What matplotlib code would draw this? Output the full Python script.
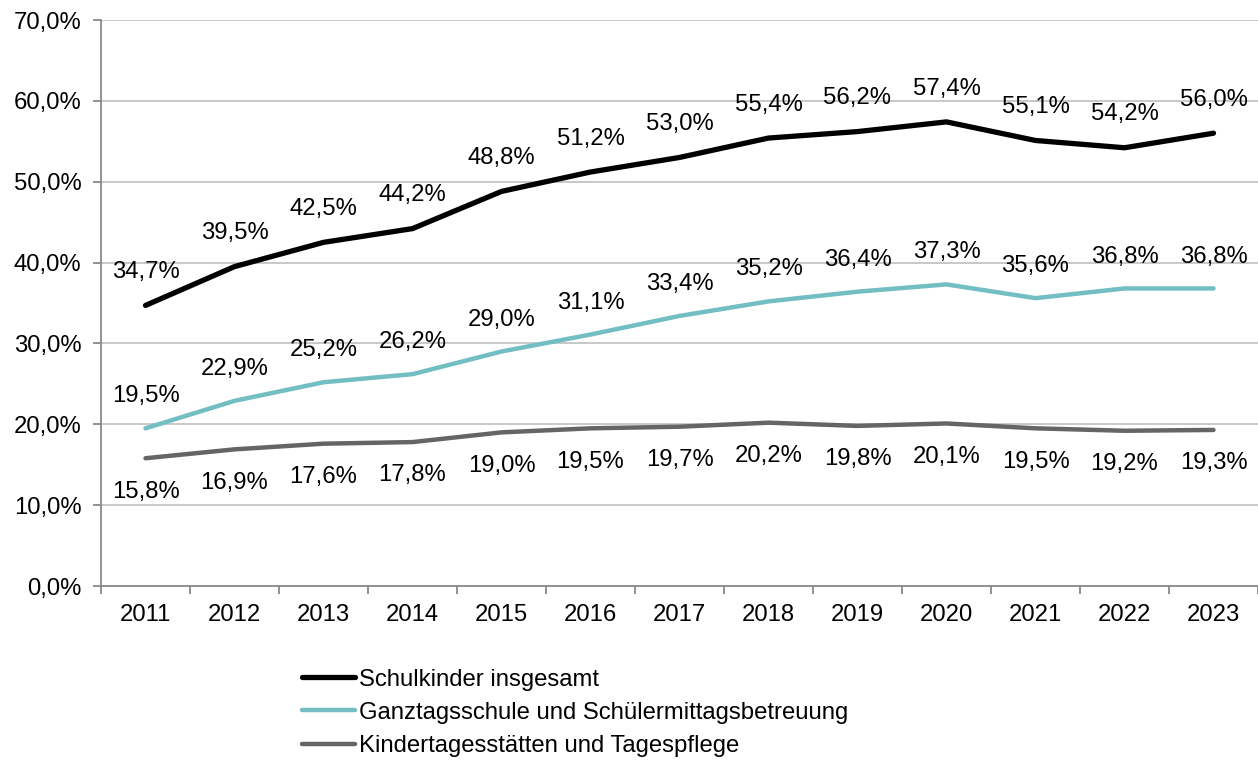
import matplotlib
matplotlib.use("Agg")
import matplotlib.pyplot as plt
from matplotlib.ticker import FuncFormatter, MultipleLocator, FixedLocator

years = ["2011", "2012", "2013", "2014", "2015", "2016", "2017", "2018", "2019", "2020", "2021", "2022", "2023"]
schulkinder = [34.7, 39.5, 42.5, 44.2, 48.8, 51.2, 53.0, 55.4, 56.2, 57.4, 55.1, 54.2, 56.0]
ganztag = [19.5, 22.9, 25.2, 26.2, 29.0, 31.1, 33.4, 35.2, 36.4, 37.3, 35.6, 36.8, 36.8]
kita = [15.8, 16.9, 17.6, 17.8, 19.0, 19.5, 19.7, 20.2, 19.8, 20.1, 19.5, 19.2, 19.3]
series_names = ["Schulkinder insgesamt", "Ganztagsschule und Schülermittagsbetreuung",
                "Kindertagesstätten und Tagespflege"]

plt.rcParams['font.family'] = ['Liberation Sans', 'DejaVu Sans']
FS = 17.2

fig = plt.figure(figsize=(12.58, 7.6), dpi=100)
ax = fig.add_axes([101/1258, 1-586/760, 1-101/1258, (586-20)/760])

x = list(range(len(years)))
c_black = "#000000"
c_teal = "#72BEC3"
c_gray = "#656565"

l1, = ax.plot(x, schulkinder, color=c_black, lw=3.8, solid_capstyle='round', zorder=4)
l2, = ax.plot(x, ganztag, color=c_teal, lw=3.2, solid_capstyle='round', zorder=3)
l3, = ax.plot(x, kita, color=c_gray, lw=3.2, solid_capstyle='round', zorder=3)

def fmt(v):
    return f"{v:.1f}%".replace(".", ",")

for xi, v in zip(x, schulkinder):
    ax.annotate(fmt(v), (xi, v), xytext=(0, 24), textcoords='offset points',
                ha='center', va='center', fontsize=FS)
for xi, v in zip(x, ganztag):
    ax.annotate(fmt(v), (xi, v), xytext=(0, 23), textcoords='offset points',
                ha='center', va='center', fontsize=FS)
for xi, v in zip(x, kita):
    ax.annotate(fmt(v), (xi, v), xytext=(0, -24), textcoords='offset points',
                ha='center', va='center', fontsize=FS)

ax.set_xlim(-0.5, len(years) - 0.5)
ax.set_ylim(0, 70)
ax.yaxis.set_major_locator(MultipleLocator(10))
ax.yaxis.set_major_formatter(FuncFormatter(lambda v, p: fmt(v)))
ax.grid(axis='y', color='#BFBFBF', lw=1.2)
ax.set_axisbelow(True)

ax.set_xticks(x)
ax.set_xticklabels(years)
ax.xaxis.set_minor_locator(FixedLocator([i - 0.5 for i in range(len(years) + 1)]))
ax.tick_params(axis='x', which='major', length=0, pad=13, labelsize=FS)
ax.tick_params(axis='x', which='minor', length=6, width=1.3, color='#898989')
ax.tick_params(axis='y', length=6, width=1.3, color='#898989', labelsize=FS, pad=8)

for s in ['top', 'right']:
    ax.spines[s].set_visible(False)
for s in ['left', 'bottom']:
    ax.spines[s].set_color('#898989')
    ax.spines[s].set_linewidth(1.3)

fig.legend([l1, l2, l3], series_names, loc='upper left',
           bbox_to_anchor=(292/1258, 1-659/760), frameon=False, fontsize=FS,
           handlelength=2.25, handletextpad=0.15, labelspacing=0.47, borderaxespad=0)

fig.savefig("out.png", dpi=100)
